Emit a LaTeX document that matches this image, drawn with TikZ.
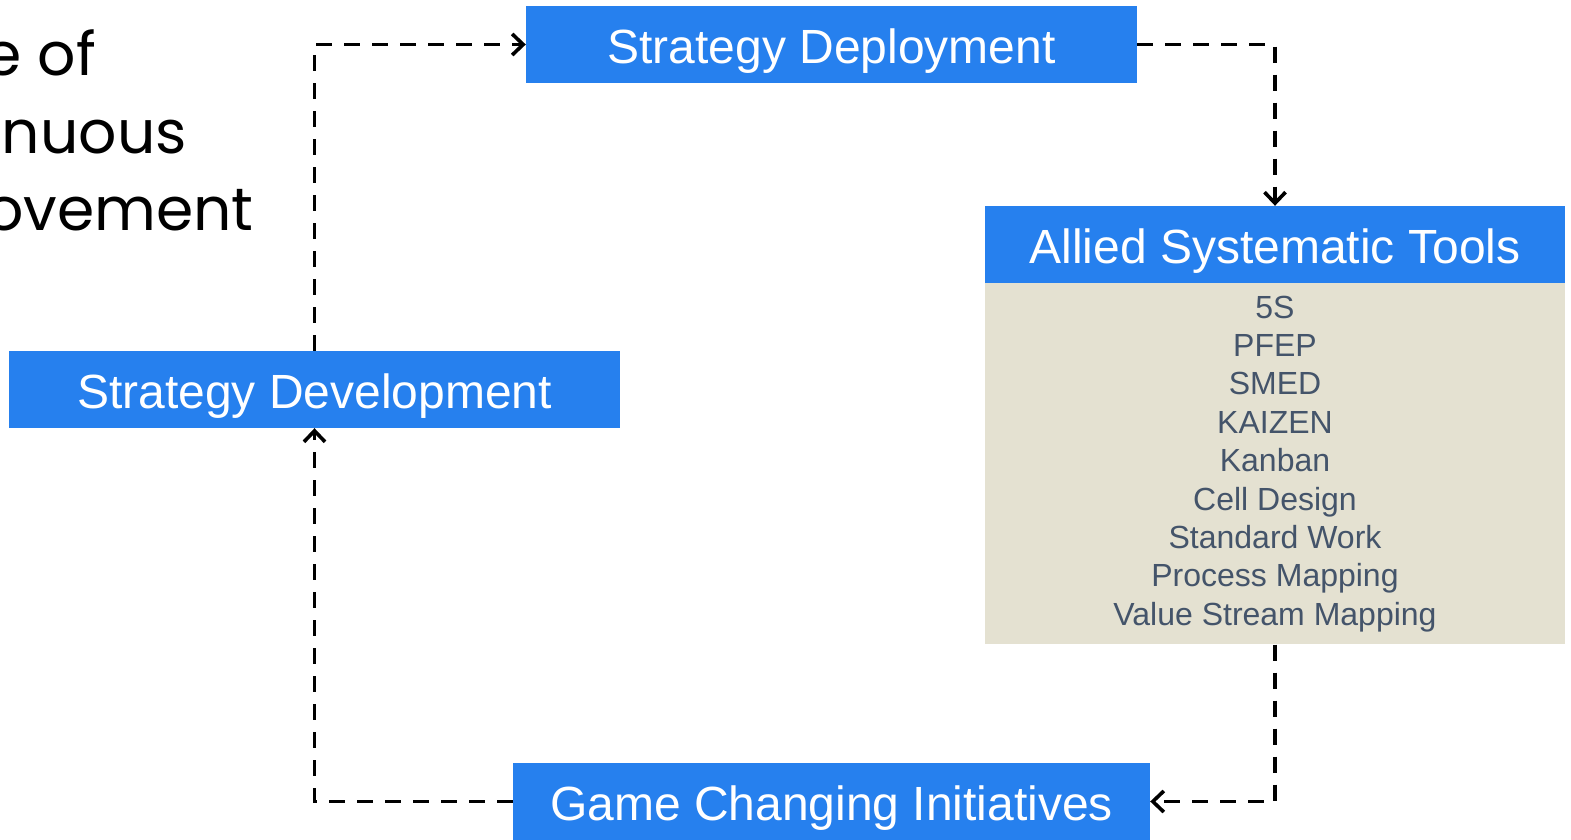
\documentclass[tikz,border=0pt]{standalone}
\usepackage{fontspec}
\setmainfont{Liberation Sans}
\newfontfamily\gothicfont{Poppins}
\usetikzlibrary{arrows.meta}
\definecolor{boxblue}{HTML}{2680EE}
\definecolor{beige}{HTML}{E4E1D1}
\definecolor{slate}{HTML}{44546A}
\begin{document}
\begin{tikzpicture}[x=1pt,y=-1pt,
  bluebox/.style={fill=boxblue,text=white,text height=57.5pt,text depth=19.5pt,inner ysep=0pt,inner xsep=0pt,
    font=\fontsize{48}{56}\selectfont},
  toolbox/.style={fill=beige,text=slate,minimum width=580pt,minimum height=361pt,
    inner sep=0pt,align=center,font=\fontsize{32}{38.4}\selectfont},
  conn/.style={draw=black,line width=3.6pt,dash pattern=on 16pt off 12pt,
    -{Straight Barb[length=11pt,width=21pt]}},
  title/.style={anchor=base east,inner sep=0pt,text=black,
    font=\gothicfont\fontsize{60}{77}\selectfont}]
\useasboundingbox (0,0) rectangle (1571,840);
% title fragments
\node[title] (t1) at (96,76) {e of};
\node[title] (t2) at (187,153.5) {nuous};
\node[title] (t3) at (254,230) {ovement};
% boxes
\node[bluebox,minimum width=611pt] (dep) at (831.5,44.5) {Strategy Deployment};
\node[bluebox,minimum width=611pt] (dev) at (314.5,389.5) {Strategy Development};
\node[bluebox,minimum width=637pt] (gci) at (831.5,801.5) {Game Changing Initiatives};
\node[bluebox,minimum width=580pt] (ast) at (1275,244.5) {Allied Systematic Tools};
\node[toolbox,anchor=north] (tools) at (ast.south)
  {5S\\PFEP\\SMED\\KAIZEN\\Kanban\\Cell Design\\Standard Work\\Process Mapping\\Value Stream Mapping};
% connectors
\draw[conn] (dev.north) |- (dep.west);
\draw[conn] (dep.east) -| (ast.north);
\draw[conn] (tools.south) |- (gci.east);
\draw[conn] (gci.west) -| (dev.south);
\end{tikzpicture}
\end{document}
